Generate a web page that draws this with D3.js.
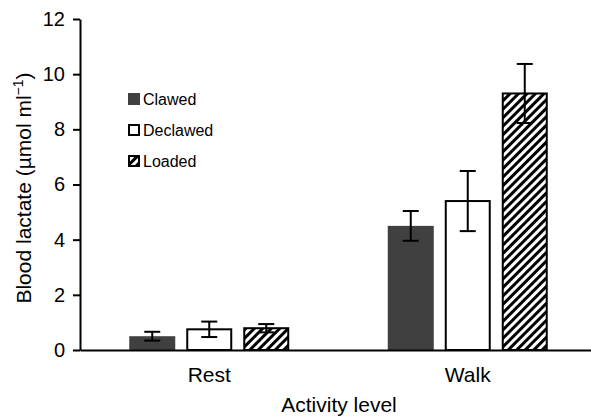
<!DOCTYPE html>
<html>
<head>
<meta charset="utf-8">
<script src="https://cdn.jsdelivr.net/npm/d3@7"></script>
<style>
body { margin: 0; background: #fff; }
text { font-family: "Liberation Sans", Arial, sans-serif; fill: #000; }
</style>
</head>
<body>
<div id="chart"></div>
<script>
// dados
var categories = ["Rest", "Walk"];
var seriesNames = ["Clawed", "Declawed", "Loaded"];
var clawedValues = [0.5, 4.5];
var clawedErrors = [0.16, 0.54];
var declawedValues = [0.75, 5.4];
var declawedErrors = [0.28, 1.09];
var loadedValues = [0.79, 9.3];
var loadedErrors = [0.15, 1.07];
var yTicks = [0, 2, 4, 6, 8, 10, 12];

var seriesValues = [clawedValues, declawedValues, loadedValues];
var seriesErrors = [clawedErrors, declawedErrors, loadedErrors];

var width = 591;
var height = 417;

var svg = d3.select("#chart")
.append("svg")
.attr("width", width)
.attr("height", height);

// padrão listrado para "Loaded"
var defs = svg.append("defs");
defs.append("pattern")
.attr("id", "hatch")
.attr("patternUnits", "userSpaceOnUse")
.attr("width", 6)
.attr("height", 6)
.attr("patternTransform", "rotate(45)")
.append("rect")
.attr("x", 0)
.attr("y", 0)
.attr("width", 3)
.attr("height", 6)
.attr("fill", "#000");

var fills = ["#404040", "#fff", "url(#hatch)"];
var strokes = ["none", "#000", "#000"];

var x = d3.scaleBand().domain(categories).range([80, 597]).padding(0);
var xSub = d3.scaleBand().domain(seriesNames)
.range([(x.bandwidth() - 160) / 2, (x.bandwidth() + 160) / 2])
.paddingInner(0.193);
var y = d3.scaleLinear().domain([0, 12]).range([350, 19]);

// barras
var groups = svg.selectAll("g.cat")
.data(categories)
.enter()
.append("g")
.attr("class", "cat")
.attr("transform", d => "translate(" + x(d) + ",0)");

seriesNames.forEach(function(s, si) {
  groups.append("rect")
  .attr("x", xSub(s) + (strokes[si] === "none" ? 0 : 1))
  .attr("y", (d, i) => y(seriesValues[si][i]))
  .attr("width", xSub.bandwidth() - (strokes[si] === "none" ? 0 : 2))
  .attr("height", (d, i) => y(0) - y(seriesValues[si][i]))
  .attr("fill", fills[si])
  .attr("stroke", strokes[si])
  .attr("stroke-width", 2);
});

// barras de erro
seriesNames.forEach(function(s, si) {
  var cx = xSub(s) + xSub.bandwidth() / 2;
  groups.each(function(d, i) {
    var g = d3.select(this);
    var v = seriesValues[si][i], e = seriesErrors[si][i];
    g.append("line")
    .attr("x1", cx).attr("x2", cx)
    .attr("y1", y(v + e)).attr("y2", y(v - e))
    .attr("stroke", "#000").attr("stroke-width", 2);
    [v + e, v - e].forEach(function(t) {
      g.append("line")
      .attr("x1", cx - 8).attr("x2", cx + 8)
      .attr("y1", y(t)).attr("y2", y(t))
      .attr("stroke", "#000").attr("stroke-width", 2);
    });
  });
});

// eixos
var yAxis = d3.axisLeft(y).tickValues(yTicks).tickSize(7).tickPadding(8).tickSizeOuter(0);
var gy = svg.append("g")
.attr("transform", "translate(80,0)")
.call(yAxis);
gy.selectAll("path, line").attr("stroke", "#000").attr("stroke-width", 2);
gy.selectAll("text").style("font-size", "20px").attr("fill", "#000");

var xAxis = d3.axisBottom(x).tickSize(0).tickPadding(17).tickSizeOuter(0);
var gx = svg.append("g")
.attr("transform", "translate(0,350)")
.call(xAxis);
gx.select(".domain").attr("stroke", "#000").attr("stroke-width", 2);
gx.selectAll("text").style("font-size", "21px").attr("fill", "#000");

// títulos
svg.append("text")
.attr("x", 339)
.attr("y", 412)
.attr("text-anchor", "middle")
.style("font-size", "21px")
.text("Activity level");

var yt = svg.append("text")
.attr("transform", "translate(31,188) rotate(-90)")
.attr("text-anchor", "middle")
.style("font-size", "21px");
yt.append("tspan").text("Blood lactate (\u00b5mol ml");
yt.append("tspan").attr("dy", -8).style("font-size", "14px").text("\u22121");
yt.append("tspan").attr("dy", 8).text(")");

// legenda
var legend = svg.selectAll("g.leg")
.data(seriesNames)
.enter()
.append("g")
.attr("class", "leg")
.attr("transform", (d, i) => "translate(128," + (93 + i * 31) + ")");

legend.append("rect")
.attr("x", (d, i) => i === 0 ? 0 : 1)
.attr("y", (d, i) => i === 0 ? 0 : 1)
.attr("width", (d, i) => i === 0 ? 12 : 10)
.attr("height", (d, i) => i === 0 ? 12 : 10)
.attr("fill", (d, i) => fills[i])
.attr("stroke", (d, i) => strokes[i])
.attr("stroke-width", 2);

legend.append("text")
.attr("x", 15)
.attr("y", 12)
.style("font-size", "16px")
.text(d => d);
</script>
</body>
</html>
